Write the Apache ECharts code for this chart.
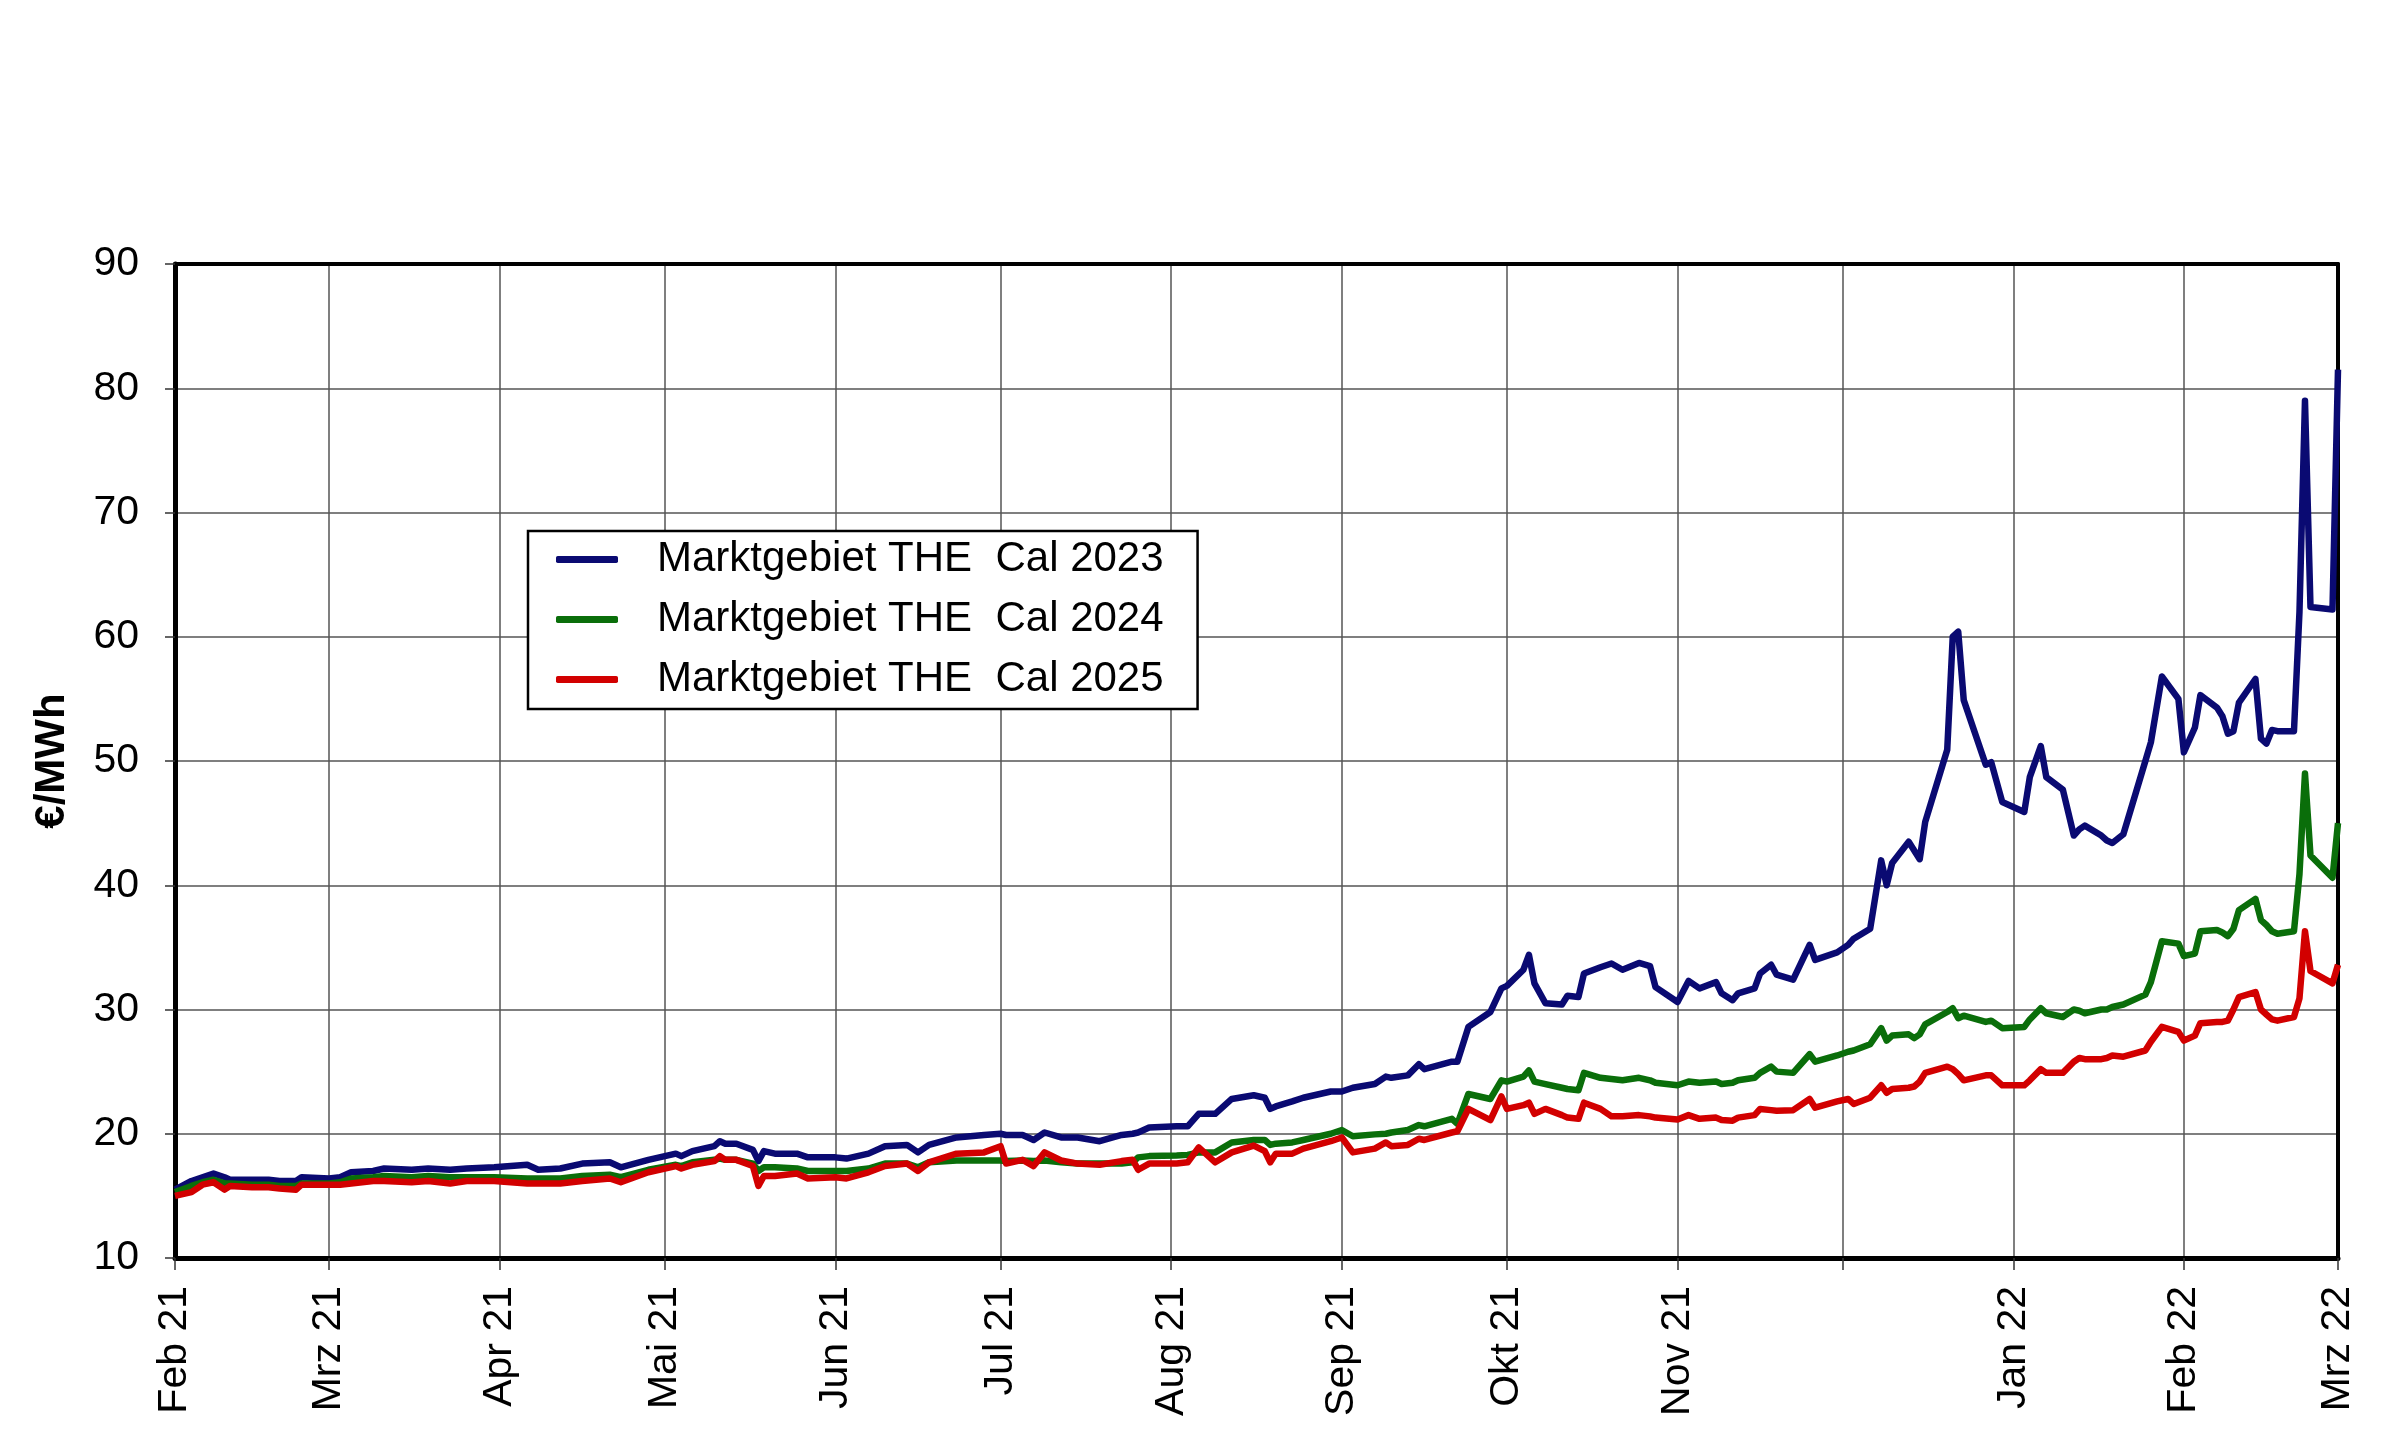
<!DOCTYPE html>
<html>
<head>
<meta charset="utf-8">
<script src="https://cdn.jsdelivr.net/npm/echarts@6/dist/echarts.min.js"></script>
<style>
html,body{margin:0;padding:0;background:#fff;}
#chart{width:2400px;height:1436px;}
</style>
</head>
<body>
<div id="chart"></div>
<script>
// ---- data ----
const monthNames = ['Jan','Feb','Mrz','Apr','Mai','Jun','Jul','Aug','Sep','Okt','Nov','Dez'];
const seriesNames = ['Marktgebiet THE  Cal 2023','Marktgebiet THE  Cal 2024','Marktgebiet THE  Cal 2025'];
const dates = [
'2021-02-01','2021-02-04','2021-02-06','2021-02-08','2021-02-10','2021-02-11','2021-02-15','2021-02-18','2021-02-20','2021-02-23','2021-02-24',
'2021-03-01','2021-03-03','2021-03-05','2021-03-09','2021-03-11','2021-03-16','2021-03-19','2021-03-23','2021-03-26','2021-03-31',
'2021-04-06','2021-04-08','2021-04-12','2021-04-16','2021-04-21','2021-04-23','2021-04-28',
'2021-05-03','2021-05-04','2021-05-06','2021-05-10','2021-05-11','2021-05-12','2021-05-14','2021-05-17','2021-05-18','2021-05-19','2021-05-21','2021-05-25','2021-05-27',
'2021-06-01','2021-06-03','2021-06-07','2021-06-10','2021-06-14','2021-06-16','2021-06-18','2021-06-23','2021-06-28',
'2021-07-01','2021-07-02','2021-07-05','2021-07-07','2021-07-09','2021-07-12','2021-07-15','2021-07-19','2021-07-23','2021-07-25','2021-07-26','2021-07-28',
'2021-08-02','2021-08-04','2021-08-06','2021-08-09','2021-08-12','2021-08-16','2021-08-18','2021-08-19','2021-08-20','2021-08-23','2021-08-25','2021-08-30',
'2021-09-01','2021-09-03','2021-09-07','2021-09-09','2021-09-10','2021-09-13','2021-09-15','2021-09-16','2021-09-21','2021-09-22','2021-09-24','2021-09-28','2021-09-30',
'2021-10-01','2021-10-04','2021-10-05','2021-10-06','2021-10-08','2021-10-11','2021-10-12','2021-10-14','2021-10-15','2021-10-18','2021-10-20','2021-10-22','2021-10-25','2021-10-27','2021-10-28',
'2021-11-01','2021-11-03','2021-11-05','2021-11-08','2021-11-09','2021-11-11','2021-11-12','2021-11-15','2021-11-16','2021-11-18','2021-11-19','2021-11-22','2021-11-25','2021-11-26','2021-11-30',
'2021-12-02','2021-12-03','2021-12-06','2021-12-08','2021-12-09','2021-12-10','2021-12-13','2021-12-14','2021-12-15','2021-12-16','2021-12-20','2021-12-21','2021-12-22','2021-12-23','2021-12-27','2021-12-28','2021-12-30',
'2022-01-03','2022-01-04','2022-01-06','2022-01-07','2022-01-10','2022-01-12','2022-01-13','2022-01-14','2022-01-17','2022-01-18','2022-01-19','2022-01-21','2022-01-25','2022-01-26','2022-01-28','2022-01-31',
'2022-02-01','2022-02-03','2022-02-04','2022-02-07','2022-02-08','2022-02-09','2022-02-10','2022-02-11','2022-02-14','2022-02-15','2022-02-16','2022-02-17','2022-02-18','2022-02-21','2022-02-22','2022-02-23','2022-02-24','2022-02-28',
'2022-03-01'
];
const cal2023 = [
15.5,16.2,16.5,16.8,16.5,16.3,16.3,16.3,16.2,16.2,16.5,
16.4,16.5,16.9,17.0,17.2,17.1,17.2,17.1,17.2,17.3,
17.5,17.1,17.2,17.6,17.7,17.3,17.9,
18.4,18.2,18.6,19.0,19.4,19.2,19.2,18.7,17.8,18.6,18.4,18.4,18.1,
18.1,18.0,18.4,19.0,19.1,18.5,19.1,19.7,19.9,
20.0,19.9,19.9,19.5,20.1,19.7,19.7,19.4,19.9,20.0,20.1,20.5,
20.6,20.6,21.6,21.6,22.8,23.1,22.9,22.0,22.2,22.6,22.9,23.4,
23.4,23.7,24.0,24.6,24.5,24.7,25.6,25.2,25.8,25.8,28.6,29.8,31.7,
31.9,33.2,34.4,32.1,30.5,30.4,31.1,31.0,32.9,33.4,33.7,33.2,33.75,33.5,31.8,
30.6,32.3,31.7,32.2,31.3,30.75,31.3,31.7,32.9,33.6,32.8,32.4,35.2,34.0,34.6,
35.2,35.7,36.5,42.0,40.0,41.8,43.5,42.8,42.1,45.1,50.9,60.0,60.4,54.9,49.7,49.9,46.7,
45.9,48.7,51.2,48.7,47.7,44.0,44.5,44.8,44.0,43.6,43.4,44.1,50.0,51.5,56.8,55.0,
50.7,52.7,55.3,54.3,53.6,52.2,52.4,54.7,56.6,51.8,51.4,52.5,52.4,52.4,62.0,79.0,62.4,62.2,
81.5
];
const cal2024 = [
15.3,15.8,16.1,16.3,16.0,16.0,15.9,15.9,15.8,15.8,16.0,
16.0,16.1,16.4,16.5,16.6,16.5,16.6,16.5,16.5,16.5,
16.4,16.4,16.4,16.6,16.7,16.5,17.1,
17.5,17.4,17.7,17.9,18.0,17.9,17.9,17.6,17.0,17.3,17.3,17.2,17.0,
17.0,17.0,17.2,17.6,17.6,17.3,17.7,17.85,17.85,
17.85,17.8,17.85,17.8,17.85,17.7,17.6,17.6,17.6,17.7,18.1,18.2,
18.25,18.3,18.5,18.5,19.3,19.5,19.5,19.1,19.2,19.3,19.5,20.0,
20.3,19.8,19.95,20.0,20.1,20.3,20.7,20.6,21.2,20.8,23.2,22.8,24.3,
24.2,24.6,25.1,24.2,24.0,23.7,23.6,23.5,24.9,24.5,24.4,24.3,24.5,24.3,24.1,
23.9,24.2,24.1,24.2,24.0,24.1,24.3,24.5,24.9,25.4,25.0,24.9,26.4,25.8,26.3,
26.6,26.7,27.2,28.5,27.5,27.9,28.0,27.7,28.0,28.8,29.8,30.1,29.3,29.5,29.0,29.1,28.5,
28.6,29.2,30.1,29.7,29.4,30.0,29.9,29.7,30.0,30.0,30.2,30.4,31.2,32.2,35.5,35.3,
34.3,34.5,36.3,36.4,36.2,35.9,36.5,38.0,38.9,37.2,36.8,36.3,36.1,36.3,40.9,49.0,42.4,40.6,
45.0
];
const cal2025 = [
15.0,15.3,15.9,16.1,15.5,15.8,15.7,15.7,15.6,15.5,15.9,
15.9,15.9,16.0,16.2,16.2,16.1,16.2,16.0,16.2,16.2,
16.0,16.0,16.0,16.2,16.4,16.1,16.9,
17.4,17.2,17.5,17.8,18.2,17.9,17.9,17.4,15.8,16.6,16.6,16.8,16.4,
16.5,16.4,16.9,17.4,17.6,17.0,17.7,18.4,18.5,
19.0,17.6,17.9,17.4,18.5,17.85,17.6,17.5,17.8,17.9,17.1,17.6,
17.6,17.7,18.9,17.7,18.5,19.05,18.6,17.7,18.4,18.4,18.8,19.4,
19.7,18.5,18.8,19.3,19.0,19.1,19.6,19.5,20.1,20.2,22.0,21.1,23.0,
22.0,22.3,22.5,21.6,22.0,21.5,21.3,21.2,22.5,22.0,21.4,21.4,21.5,21.4,21.3,
21.15,21.5,21.2,21.3,21.1,21.05,21.3,21.5,22.0,21.9,21.85,21.9,22.8,22.1,22.6,
22.8,22.4,22.9,23.9,23.3,23.6,23.7,23.8,24.2,24.9,25.4,25.2,24.8,24.3,24.7,24.7,23.9,
23.9,24.3,25.2,24.9,24.9,25.8,26.1,26.0,26.0,26.1,26.3,26.2,26.7,27.4,28.6,28.2,
27.5,27.9,28.9,29.0,29.0,29.1,30.0,31.0,31.4,30.0,29.6,29.2,29.1,29.4,30.9,36.3,33.1,32.1,
33.6
];
const yMin = 10, yMax = 90, yStep = 10;
const colors = ['#0a0a72', '#0a6e0a', '#d20000'];

// ---- daily category axis from 2021-02-01 to 2022-03-01 ----
const days = [];
for (let t = Date.UTC(2021,1,1); t <= Date.UTC(2022,2,1); t += 86400000) {
  days.push(new Date(t).toISOString().slice(0,10));
}
const dayIndex = {};
days.forEach((d,i)=>{ dayIndex[d] = i; });
const isMonthStart = (i, v) => (v || days[i]).slice(8,10) === '01';
const toPairs = vals => dates.map((d,i)=>[dayIndex[d], vals[i]]);

const FONT = '"Liberation Sans", Arial, sans-serif';
const chart = echarts.init(document.getElementById('chart'));
chart.setOption({
  animation: false,
  backgroundColor: '#fff',
  textStyle: { fontFamily: FONT },
  grid: { left: 175, right: 62, top: 264, bottom: 178, containLabel: false },
  legend: {
    orient: 'vertical',
    left: 528, top: 531,
    backgroundColor: '#fff',
    borderColor: '#000', borderWidth: 2.5,
    padding: [5, 34, 6, 28],
    itemGap: 13,
    itemWidth: 62, itemHeight: 7,
    icon: 'roundRect',
    textStyle: { fontFamily: FONT, fontSize: 42, color: '#000', lineHeight: 47, padding: [0,0,0,34] },
    data: seriesNames
  },
  xAxis: [{
    type: 'category',
    data: days,
    boundaryGap: false,
    axisLine: { show: true, lineStyle: { color: '#000', width: 5 } },
    axisTick: { show: true, interval: isMonthStart, length: 12, lineStyle: { color: '#333', width: 1.5 } },
    axisLabel: {
      interval: isMonthStart, rotate: 90, margin: 28, fontSize: 41, color: '#000', fontFamily: FONT,
      formatter: v => { const m = +v.slice(5,7) - 1; if (m === 11) return ''; return monthNames[m] + ' ' + v.slice(2,4); }
    },
    splitLine: { show: true, interval: isMonthStart, lineStyle: { color: '#555', width: 1.5 } }
  },{
    type: 'category', data: days, boundaryGap: false, position: 'top',
    axisLine: { show: true, lineStyle: { color: '#000', width: 4 } },
    axisTick: { show: false }, axisLabel: { show: false }, splitLine: { show: false }
  }],
  yAxis: [{
    type: 'value', min: yMin, max: yMax, interval: yStep,
    name: '€/MWh', nameLocation: 'middle', nameGap: 102,
    nameTextStyle: { fontSize: 42, fontWeight: 'bold', color: '#000', fontFamily: FONT },
    axisLine: { show: true, lineStyle: { color: '#000', width: 5 } },
    axisTick: { show: true, length: 10, lineStyle: { color: '#333', width: 1.5 } },
    axisLabel: { fontSize: 41, color: '#000', margin: 36, fontFamily: FONT },
    splitLine: { show: true, lineStyle: { color: '#555', width: 1.5 } }
  },{
    type: 'value', min: yMin, max: yMax, interval: yStep, position: 'right',
    axisLine: { show: true, lineStyle: { color: '#000', width: 4 } },
    axisTick: { show: false }, axisLabel: { show: false }, splitLine: { show: false }
  }],
  series: [cal2023, cal2024, cal2025].map((vals, k) => ({
    name: seriesNames[k],
    type: 'line',
    data: toPairs(vals),
    showSymbol: false, symbol: 'none',
    color: colors[k],
    lineStyle: { width: 6.5, color: colors[k], join: 'round' },
    z: 3 + k
  }))
});
</script>
</body>
</html>
